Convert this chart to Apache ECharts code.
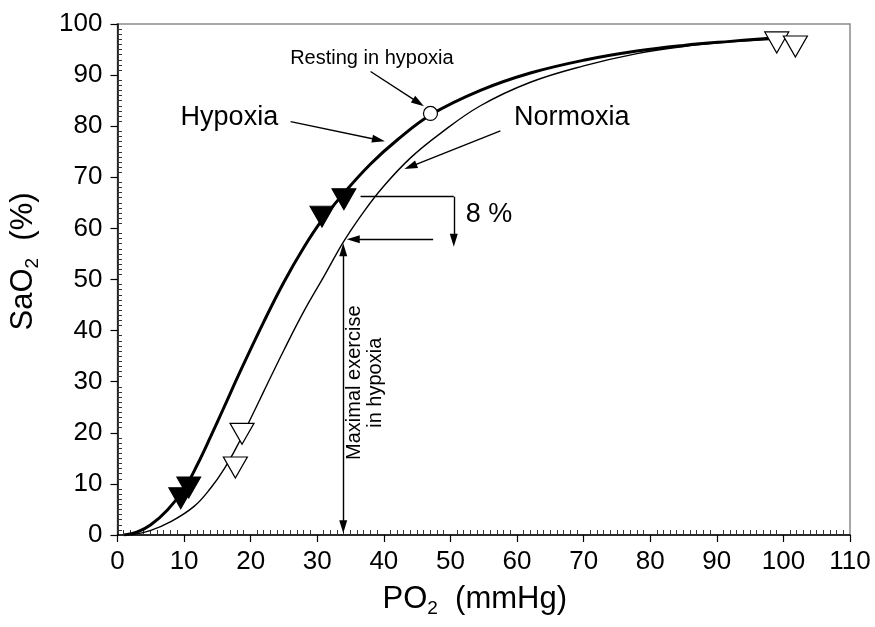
<!DOCTYPE html>
<html>
<head>
<meta charset="utf-8">
<script src="https://cdn.jsdelivr.net/npm/echarts@6/dist/echarts.min.js"></script>
<style>
  html, body { margin: 0; padding: 0; background: #fff; }
  #chart { width: 875px; height: 627px; }
</style>
</head>
<body>
<div id="chart"></div>
<script>
// dissociation curves (PO2 mmHg, SaO2 %)
const hypoxiaCurve = [
  [1, 0], [3, 0.6], [5, 2.0], [7.5, 4.9], [10, 9.0], [12, 13.8], [14, 19.3],
  [16, 25], [18.5, 32.2], [22, 41.8], [25, 49.5], [28, 56.3], [30.7, 61.6],
  [34, 66.9], [38, 72.6], [42, 77.3], [47, 82.2], [54.5, 87], [62, 90.4],
  [70, 92.9], [78, 94.7], [85, 95.8], [92, 96.6], [98, 97.2]
];
const normoxiaCurve = [
  [2, 0], [5, 0.9], [8, 2.6], [11.5, 5.6], [14, 9.2], [16, 12.9], [18, 17.5],
  [20, 22.8], [22, 28.2], [25, 36.2], [28, 43.8], [31, 50.6], [34, 57.5],
  [37, 63.3], [40, 68.3], [44, 73.8], [48.5, 78.6], [54.5, 84.0], [62, 88.6],
  [70, 91.8], [78, 94.2], [85, 95.6], [92, 96.5], [99, 97]
];
// measured points
const hypoxiaPoints = [[9.5, 7.2], [10.7, 9.3], [30.7, 62.3], [34.0, 65.7]];
const normoxiaPoints = [[17.7, 13.2], [18.7, 19.8], [99.0, 96.4], [101.8, 95.6]];
const restingPoint = [[47, 82.5]];

// axes
const xMin = 0, xMax = 110, xStep = 10;
const yMin = 0, yMax = 100, yStep = 10;

// annotation texts and where they sit (data units)
const noteTexts = ["Resting in hypoxia", "Hypoxia", "Normoxia", "8 %", "Maximal exercise\nin hypoxia"];
const noteAnchors = [[38.2, 93.3], [16.8, 81.6], [68.2, 81.6], [55.8, 62.8], [37.2, 29.8]];
// arrows: [from, to]
const arrows = [
  [[38, 90.7], [45.2, 84.6]],
  [[26.0, 80.9], [39.2, 77.3]],
  [[57.5, 79.1], [44.0, 72.1]],
  [[50.5, 66.2], [50.5, 57.7]],
  [[47.4, 57.9], [35.4, 57.9]]
];
const bracketLine = [[36.5, 66.2], [50.5, 66.2]];
const exerciseSpan = [[33.9, 1.6], [33.9, 55.8]];

const FONT = "Liberation Sans, Arial, sans-serif";

let chart = echarts.init(document.getElementById("chart"));

const noteStyle = [
  { fontSize: 20 },
  { fontSize: 27 },
  { fontSize: 27 },
  { fontSize: 27 },
  { fontSize: 20, rotate: 90, lineHeight: 21 }
];

let markData = arrows.map(a => [
  { coord: a[0], symbol: "none" },
  { coord: a[1], symbol: "triangle" }
]);
markData.push([
  { coord: bracketLine[0], symbol: "none" },
  { coord: bracketLine[1], symbol: "none" }
]);
markData.push([
  { coord: exerciseSpan[0], symbol: "triangle" },
  { coord: exerciseSpan[1], symbol: "triangle" }
]);

const gridBox = { left: 117, top: 24, right: 25, bottom: 92 };

const titleRich = {
  a: { fontSize: 31, fontFamily: FONT, color: "#000", lineHeight: 38 },
  s: { fontSize: 19, fontFamily: FONT, color: "#000", lineHeight: 20, verticalAlign: "bottom" }
};

let option = {
  animation: false,
  backgroundColor: "#fff",
  textStyle: { fontFamily: FONT },
  grid: [
    Object.assign({ show: true, borderColor: "#8a8a8a", borderWidth: 1.5, backgroundColor: "transparent" }, gridBox),
    Object.assign({ show: false }, gridBox)
  ],
  xAxis: [
    {
      type: "value",
      gridIndex: 0,
      min: xMin,
      max: xMax,
      interval: xStep,
      name: "{a|PO}{s|2}{a|  (mmHg)}",
      nameLocation: "middle",
      nameGap: 45,
      nameTextStyle: { rich: titleRich, padding: [0, 18, 0, 0] },
      axisLine: { show: true, lineStyle: { color: "#000", width: 1.5 } },
      axisTick: { show: true, inside: false, length: 7, lineStyle: { color: "#000", width: 1.2 } },
      axisLabel: { fontSize: 26, color: "#000", margin: 14, fontFamily: FONT },
      splitLine: { show: false }
    },
    {
      type: "value",
      gridIndex: 1,
      min: xMin,
      max: xMax,
      interval: xStep,
      axisLine: { show: false },
      axisTick: { show: false, inside: true },
      axisLabel: { show: false },
      minorTick: { show: true, splitNumber: 10, length: 5, lineStyle: { color: "#333", width: 1 } },
      splitLine: { show: false }
    }
  ],
  yAxis: [
    {
      type: "value",
      gridIndex: 0,
      min: yMin,
      max: yMax,
      interval: yStep,
      name: "{a|SaO}{s|2}{a|  (%)}",
      nameLocation: "middle",
      nameRotate: 90,
      nameGap: 75,
      nameTextStyle: { rich: titleRich, padding: [0, 0, 0, 36] },
      axisLine: { show: true, lineStyle: { color: "#000", width: 1.5 } },
      axisTick: { show: true, inside: false, length: 7, lineStyle: { color: "#000", width: 1.2 } },
      axisLabel: { fontSize: 26, color: "#000", margin: 15, fontFamily: FONT },
      splitLine: { show: false }
    },
    {
      type: "value",
      gridIndex: 1,
      min: yMin,
      max: yMax,
      interval: yStep,
      axisLine: { show: false },
      axisTick: { show: false, inside: true },
      axisLabel: { show: false },
      minorTick: { show: true, splitNumber: 10, length: 5, lineStyle: { color: "#333", width: 1 } },
      splitLine: { show: false }
    }
  ],
  series: [
    {
      name: "Normoxia",
      type: "line",
      data: normoxiaCurve,
      smooth: 0.4,
      showSymbol: false,
      lineStyle: { color: "#000", width: 1.4 },
      z: 2
    },
    {
      name: "Hypoxia",
      type: "line",
      data: hypoxiaCurve,
      smooth: 0.4,
      showSymbol: false,
      lineStyle: { color: "#000", width: 3 },
      z: 2
    },
    {
      name: "Normoxia points",
      type: "scatter",
      data: normoxiaPoints,
      symbol: "triangle",
      symbolRotate: 180,
      symbolSize: [24, 21],
      itemStyle: { color: "#fff", borderColor: "#000", borderWidth: 1.2, opacity: 1 },
      z: 4
    },
    {
      name: "Hypoxia points",
      type: "scatter",
      data: hypoxiaPoints,
      symbol: "triangle",
      symbolRotate: 180,
      symbolSize: [24, 21],
      itemStyle: { color: "#000", borderColor: "#000", borderWidth: 1, opacity: 1 },
      z: 4
    },
    {
      name: "Resting",
      type: "scatter",
      data: restingPoint,
      symbol: "circle",
      symbolSize: 14,
      itemStyle: { color: "#fff", borderColor: "#000", borderWidth: 1.2, opacity: 1 },
      z: 5
    },
    {
      name: "notes",
      type: "scatter",
      symbolSize: 0,
      silent: true,
      itemStyle: { opacity: 1 },
      data: noteAnchors.map((p, i) => ({
        value: p,
        label: Object.assign({
          show: true,
          position: "inside",
          formatter: noteTexts[i],
          color: "#000",
          opacity: 1,
          fontFamily: FONT
        }, noteStyle[i])
      })),
      markLine: {
        silent: true,
        symbolSize: [8, 13],
        label: { show: false },
        lineStyle: { color: "#000", width: 1.4, type: "solid", opacity: 1 },
        data: markData
      },
      z: 3
    }
  ]
};

chart.setOption(option);
</script>
</body>
</html>
